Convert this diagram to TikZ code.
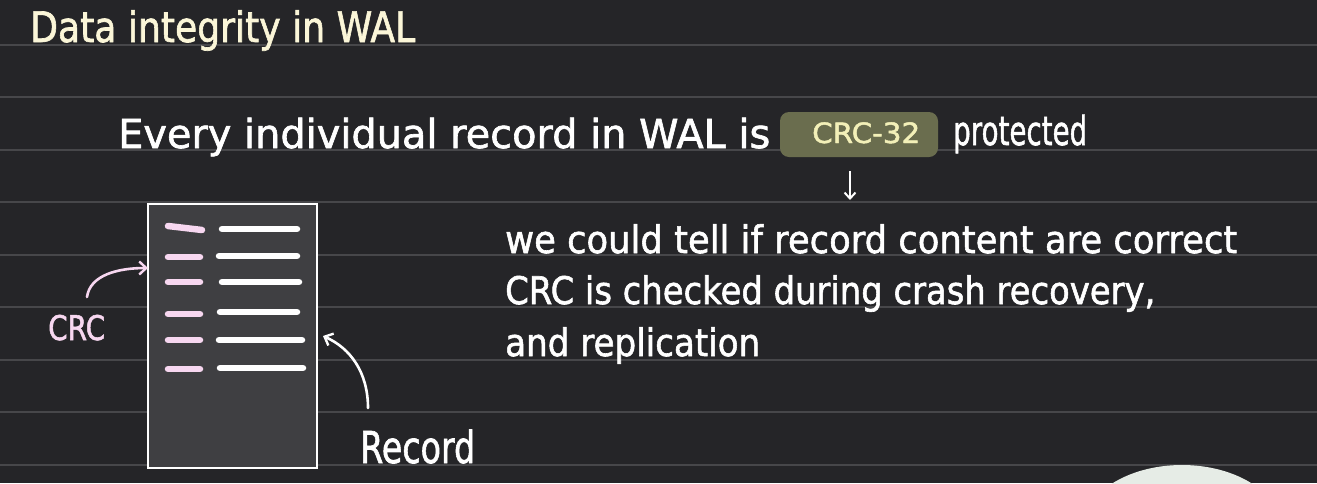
\documentclass[tikz,border=0pt]{standalone}
\usepackage{fontspec}
\setmainfont{DejaVu Sans}
\newfontfamily\hand{DejaVu Sans}[FakeBold=1.6]
\usepackage{graphicx}
\usetikzlibrary{arrows.meta}
\definecolor{bg}{HTML}{252528}
\definecolor{rule}{HTML}{47474A}
\definecolor{boxfill}{HTML}{3F3F42}
\definecolor{pinkish}{HTML}{F7D7F0}
\definecolor{cream}{HTML}{FBF6D8}
\definecolor{hlcol}{HTML}{6A6D4E}
\definecolor{hltext}{HTML}{F3F0B8}
\definecolor{cam}{HTML}{E6ECE6}
\newcommand\fitw[2]{\resizebox{#1pt}{\height}{#2}}
\tikzset{
  txt/.style={inner sep=0pt, anchor=base west, text=white},
  stroke/.style={line width=6.5pt, line cap=round},
  hand/.style={line width=2.6pt, line cap=round, -{Straight Barb[length=7pt,width=13pt,line width=2.4pt]}},
}
\begin{document}
\begin{tikzpicture}[x=1pt,y=-1pt]
\useasboundingbox (0,0) rectangle (1317,483);
\fill[bg] (0,0) rectangle (1317,483);
% ruled lines
\foreach \k in {0,...,8}{
  \draw[rule, line width=2pt] (0,44.5+52.5*\k) -- (1317,44.5+52.5*\k);
}
% title
\node[txt, text=cream, font=\hand\fontsize{42}{46}\selectfont] (title) at (30,42) {\fitw{385}{Data integrity in WAL}};
% headline
\node[txt, font=\hand\fontsize{40}{44}\selectfont] (line1) at (118,148) {\fitw{652}{Every individual record in WAL is}};
\fill[hlcol, rounded corners=9pt] (780,112) rectangle (938,157);
\node[txt, text=hltext, font=\hand\fontsize{28}{30}\selectfont] (crc32) at (812,143) {\fitw{108}{CRC-32}};
\node[txt, font=\hand\fontsize{40}{44}\selectfont] (prot) at (953,145) {\fitw{134}{protected}};
\coordinate (dA) at (850,171);
\coordinate (dB) at (850,200);
\draw[white, line width=2pt, -{Straight Barb[length=6pt,width=11pt,line width=2pt]}] (dA) -- (dB);
% paragraph
\node[txt, font=\hand\fontsize{38}{42}\selectfont] (p1) at (505,253) {\fitw{732}{we could tell if record content are correct}};
\node[txt, font=\hand\fontsize{38}{42}\selectfont] (p2) at (505,304) {\fitw{650}{CRC is checked during crash recovery,}};
\node[txt, font=\hand\fontsize{38}{42}\selectfont] (p3) at (505,356) {\fitw{255}{and replication}};
% record box
\draw[white, line width=2.6pt, fill=boxfill] (148,204) rectangle (317,468);
\coordinate (boxW) at (148,268);
\foreach \y/\xa/\xb in {257/168/200, 282/168/200, 314/168/200, 340/168/200, 369/168/200}{
  \draw[pinkish, stroke] (\xa,\y) -- (\xb,\y);
}
\draw[pinkish, stroke] (168,226) -- (202,230);
\foreach \y/\xa/\xb in {229/222/297, 256/219/297, 282/222/299, 312/220/297, 340/219/302, 368/220/303}{
  \draw[white, stroke] (\xa,\y) -- (\xb,\y);
}
% CRC label and arrow
\node[txt, text=pinkish, font=\hand\fontsize{34}{38}\selectfont] (crclbl) at (48,340) {\fitw{57}{CRC}};
\coordinate (crcA) at (87,297);
\draw[pinkish, hand] (crcA) .. controls (90,275) and (118,268) .. (boxW);
% Record label and arrow
\node[txt, font=\hand\fontsize{44}{48}\selectfont] (reclbl) at (360,463) {\fitw{115}{Record}};
\coordinate (recA) at (368,408);
\coordinate (recB) at (323,336);
\draw[white, hand] (recA) .. controls (368,372) and (350,348) .. (recB);
% bottom-right camera overlay
\fill[cam] (1182,530) ellipse [x radius=100, y radius=65];
\end{tikzpicture}
\end{document}
